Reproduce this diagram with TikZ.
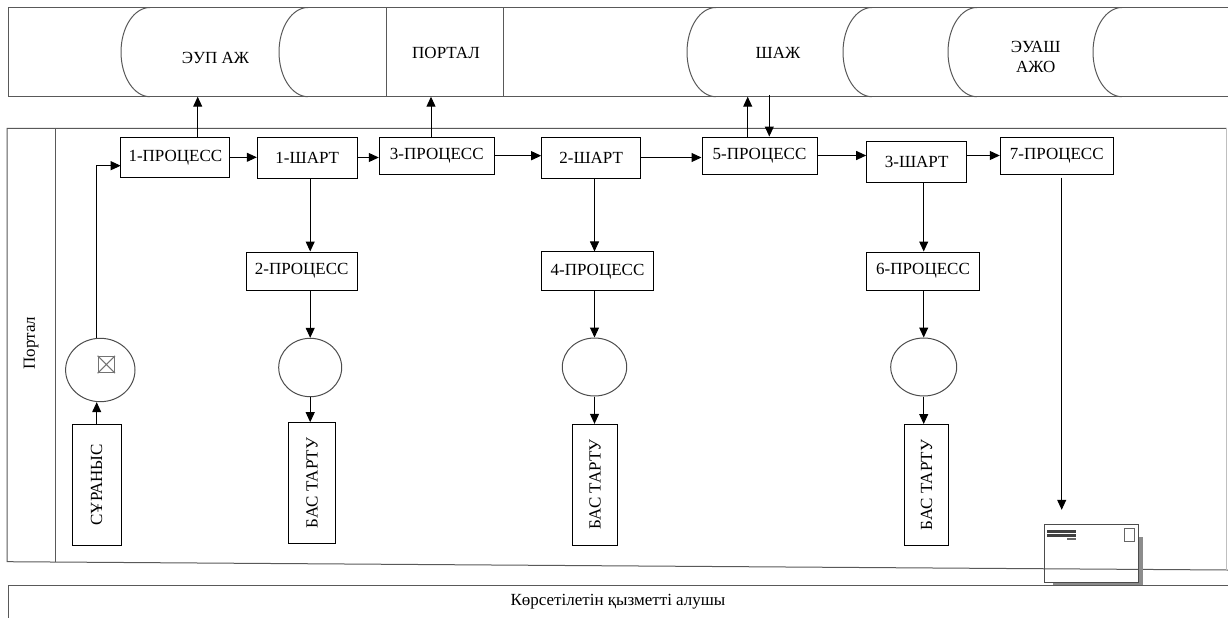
\documentclass[tikz,border=0pt]{standalone}
\usepackage{fontspec}
\setmainfont{Liberation Serif}
\usetikzlibrary{arrows.meta}
\usetikzlibrary{shapes.geometric}
\tikzset{every picture/.style={line width=1pt}}
\tikzset{
  lbl/.style={font=\fontsize{17}{20}\selectfont, inner sep=0.75pt},
  box/.style={draw, lbl, inner sep=0pt},
  vbox/.style={box, rotate=90},
  gate/.style={draw=black!70, ellipse, inner sep=0pt},
  arr/.style={-{Triangle[length=10pt,width=9pt]}},
  lane/.style={draw=black!65},
}

\begin{document}
\begin{tikzpicture}[x=1pt,y=1pt,yscale=-1,xscale=1]
\useasboundingbox (0,0) rectangle (1228,618);

%Shape: Top band
\draw [lane] (1228,7.5) -- (8,7.5) -- (8,96.7) -- (1228,96.7) ;
%Shape: Can arcs
\foreach \x in {150,308,716,872,977,1122}
  \draw [lane] (\x,7.5) arc [start angle=-90, delta angle=-180, x radius=29, y radius=44.6] ;
%Straight Lines: portal column
\draw [lane] (386.7,7.5) -- (386.7,96.7) ;
\draw [lane] (503,7.5) -- (503,96.7) ;

% Text Node
\node [lbl] (eup) at (215.5,58) {ЭУП АЖ};
% Text Node
\node [lbl] (portal) at (446,53) {ПОРТАЛ};
% Text Node
\node [lbl] (shazh) at (778,53) {ШАЖ};
% Text Node
\node [lbl, align=center] (euash) at (1035.7,57) {ЭУАШ\\АЖО};

%Shape: Pool
\draw [lane] (1226.5,128.3) -- (7,128.3) -- (7,561.7) -- (1228,570) ;
\draw [lane] (55,128.3) -- (55,561.7) ;
\draw [draw=black!25] (1226.5,128.3) -- (1226.5,570) ;
% Text Node
\node [lbl, rotate=90] (lane) at (31,343) {Портал};

%Shape: Bottom band
\draw [lane] (1228,585) -- (8,585) -- (8,620) ;
% Text Node
\node [lbl] (client) at (618,602) {Көрсетілетін қызметті алушы};

%Shape: Process row
\node [box, minimum width=109, minimum height=40] (p1) at (175.4,157.3) {1-ПРОЦЕСС};
\node [box, minimum width=100, minimum height=41] (s1) at (307.3,157.5) {1-ШАРТ};
\node [box, minimum width=115, minimum height=37] (p3) at (436.8,155.7) {3-ПРОЦЕСС};
\node [box, minimum width=99, minimum height=41] (s2) at (591.2,157.5) {2-ШАРТ};
\node [box, minimum width=115, minimum height=37] (p5) at (759.5,155.5) {5-ПРОЦЕСС};
\node [box, minimum width=100, minimum height=41] (s3) at (916.7,161.5) {3-ШАРТ};
\node [box, minimum width=113, minimum height=37] (p7) at (1056.8,155.5) {7-ПРОЦЕСС};
\node [box, minimum width=111, minimum height=38] (p2) at (301.7,271) {2-ПРОЦЕСС};
\node [box, minimum width=112, minimum height=38.7] (p4) at (597.5,271.3) {4-ПРОЦЕСС};
\node [box, minimum width=113, minimum height=38] (p6) at (923,271) {6-ПРОЦЕСС};

%Shape: Ellipses
\node [gate, minimum width=69.4, minimum height=63.4] (e0) at (100.3,370) {};
\node [gate, minimum width=63, minimum height=58.4] (e1) at (310.2,367.5) {};
\node [gate, minimum width=64.4, minimum height=58] (e2) at (594.5,367) {};
\node [gate, minimum width=66, minimum height=58] (e3) at (923.7,367) {};
\node [draw=black!55, minimum size=16, inner sep=0pt, line width=1.4pt] (xbox) at (106.3,364.5) {};
\draw [black!55] (xbox.north west) -- (xbox.south east) (xbox.north east) -- (xbox.south west) ;

%Shape: Upright boxes
\node [vbox, minimum width=120.7, minimum height=48.7] (r0) at (96.7,484.7) {СҰРАНЫС};
\node [vbox, minimum width=120.6, minimum height=46.6] (b1) at (312,483) {БАС ТАРТУ};
\node [vbox, minimum width=120.7, minimum height=45.4] (b2) at (595,484.7) {БАС ТАРТУ};
\node [vbox, minimum width=121, minimum height=44.4] (b3) at (926.5,485) {БАС ТАРТУ};

%Shape: Envelope
\fill [black!45] (1138.3,536.7) rectangle (1142.7,585) ;
\fill [black!45] (1053,582.7) rectangle (1142.7,585) ;
\node [draw=black!70, minimum width=94, minimum height=58.4, inner sep=0pt] (env) at (1091.3,553.5) {};
\fill [black!75] ([shift={(3.5,5.7)}]env.north west) rectangle ++(29,3) ;
\fill [black!75] ([shift={(3.5,10.2)}]env.north west) rectangle ++(29,3) ;
\fill [black!60] ([shift={(23,13.7)}]env.north west) rectangle ++(9.5,2) ;
\draw [black!60] ([shift={(-14,5)}]env.north east) rectangle ++(9.7,13) ;

%Straight Lines
\coordinate (p1in) at (120.7,165.7);
\coordinate (eupin) at (197.7,96.7);
\coordinate (portalin) at (431,96.7);
\coordinate (shazhin) at (747.7,96.7);
\coordinate (shazhout) at (769.3,95);
\coordinate (p7out) at (1061.7,177.5);
\draw [arr] (r0.east) -- (r0.east |- e0.south) ;
\draw [arr] (r0.east |- e0.north) |- (p1in) ;
\draw [arr] (p1.east) -- (p1.east -| s1.west) ;
\draw [arr] (s1.east) -- (s1.east -| p3.west) ;
\draw [arr] (p3.east) -- (p3.east -| s2.west) ;
\draw [arr] (s2.east) -- (s2.east -| p5.west) ;
\draw [arr] (p5.east) -- (p5.east -| s3.west) ;
\draw [arr] (p7.west -| s3.east) -- (p7.west) ;
\draw [arr] (eupin |- p1.north) -- (eupin) ;
\draw [arr] (portalin |- p3.north) -- (portalin) ;
\draw [arr] (shazhin |- p5.north) -- (shazhin) ;
\draw [arr] (shazhout) -- (shazhout |- p5.north) ;
\draw [arr] (s1.south -| e1) -- (p2.north -| e1) ;
\draw [arr] (p2.south -| e1) -- (e1.north) ;
\draw [arr] (e1.south) -- (e1.south |- b1.east) ;
\draw [arr] (s2.south -| e2) -- (p4.north -| e2) ;
\draw [arr] (p4.south -| e2) -- (e2.north) ;
\draw [arr] (e2.south) -- (e2.south |- b2.east) ;
\draw [arr] (s3.south -| e3) -- (p6.north -| e3) ;
\draw [arr] (p6.south -| e3) -- (e3.north) ;
\draw [arr] (e3.south) -- (e3.south |- b3.east) ;
\draw [arr, shorten >=14pt] (p7out) -- (p7out |- env.north) ;

\end{tikzpicture}
\end{document}
